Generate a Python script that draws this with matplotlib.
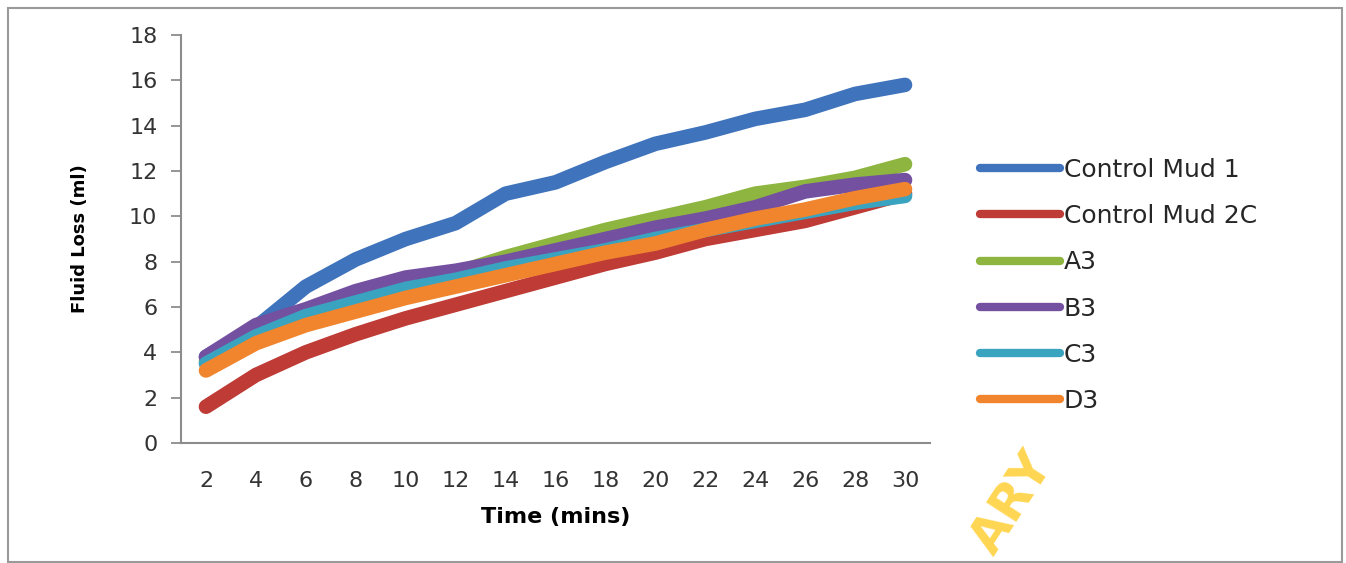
import matplotlib
matplotlib.use("Agg")
import matplotlib.pyplot as plt
from matplotlib.lines import Line2D
from matplotlib.patches import Rectangle

time_mins = [2, 4, 6, 8, 10, 12, 14, 16, 18, 20, 22, 24, 26, 28, 30]

control_mud_1  = [3.8, 5.1, 6.9, 8.1, 9.0, 9.7, 11.0, 11.5, 12.4, 13.2, 13.7, 14.3, 14.7, 15.4, 15.8]
control_mud_2c = [1.6, 3.0, 4.0, 4.8, 5.5, 6.1, 6.7, 7.3, 7.9, 8.4, 9.0, 9.4, 9.8, 10.4, 11.0]
a3 = [3.6, 4.9, 5.8, 6.4, 7.0, 7.5, 8.2, 8.8, 9.4, 9.9, 10.4, 11.0, 11.3, 11.7, 12.3]
b3 = [3.8, 5.2, 5.9, 6.7, 7.3, 7.6, 8.0, 8.5, 9.0, 9.5, 9.9, 10.4, 11.1, 11.4, 11.6]
c3 = [3.5, 4.7, 5.6, 6.2, 6.8, 7.2, 7.7, 8.1, 8.5, 9.0, 9.4, 9.8, 10.2, 10.6, 10.9]
d3 = [3.2, 4.4, 5.2, 5.8, 6.4, 6.9, 7.4, 7.9, 8.4, 8.8, 9.4, 9.9, 10.3, 10.8, 11.2]

series = [
    ("Control Mud 1", control_mud_1, "#3F73BC"),
    ("Control Mud 2C", control_mud_2c, "#BE3B36"),
    ("A3", a3, "#8DB53F"),
    ("B3", b3, "#7450A0"),
    ("C3", c3, "#3AA3C0"),
    ("D3", d3, "#F0852D"),
]

fig = plt.figure(figsize=(13.46, 5.63), dpi=100)
W, H = 1346, 563

# outer chart frame
fig.patches.append(Rectangle((8 / W, 1 / H), (1342 - 8) / W, (555 - 1) / H,
                             transform=fig.transFigure, fill=False,
                             edgecolor="#9a9a9a", linewidth=1.5))

ax = fig.add_axes([181 / W, 1 - 443 / H, (930 - 181) / W, (443 - 35) / H])

x = list(range(len(time_mins)))
for name, vals, color in series:
    ax.plot(x, vals, color=color, linewidth=10.5, solid_capstyle="round",
            solid_joinstyle="round", label=name)

ax.set_xlim(-0.5, len(time_mins) - 0.5)
ax.set_ylim(0, 18)
ax.set_yticks(range(0, 19, 2))
ax.set_xticks(x)
ax.set_xticklabels([str(t) for t in time_mins])

for side in ("top", "right"):
    ax.spines[side].set_visible(False)
for side in ("left", "bottom"):
    ax.spines[side].set_color("#8c8c8c")
    ax.spines[side].set_linewidth(1.5)

ax.tick_params(axis="y", direction="out", length=7, width=1.3, color="#8c8c8c",
               labelsize=16, labelcolor="#333333", pad=10)
ax.tick_params(axis="x", length=0, labelsize=16, labelcolor="#333333", pad=20)

ax.set_xlabel("Time (mins)", fontsize=16, fontweight="bold", labelpad=12)
ax.set_ylabel("Fluid Loss (ml)", fontsize=13, fontweight="bold", labelpad=29)

handles = [Line2D([], [], color=c, linewidth=6, solid_capstyle="round")
           for _, _, c in series]
labels = [n for n, _, _ in series]
leg = fig.legend(handles, labels, loc="upper left",
                 bbox_to_anchor=(980 / W, 1 - 158 / H), frameon=False,
                 fontsize=18, handlelength=3.2, handletextpad=0.15,
                 labelspacing=0.89, borderaxespad=0, borderpad=0)
for t in leg.get_texts():
    t.set_color("#262626")

# library watermark
fig.text(1012 / W, 1 - 503 / H, "ARY", rotation=57, color="#FFD23F",
         fontsize=36, fontweight="bold", ha="center", va="center", alpha=0.9)

fig.savefig("out.png", dpi=100)
